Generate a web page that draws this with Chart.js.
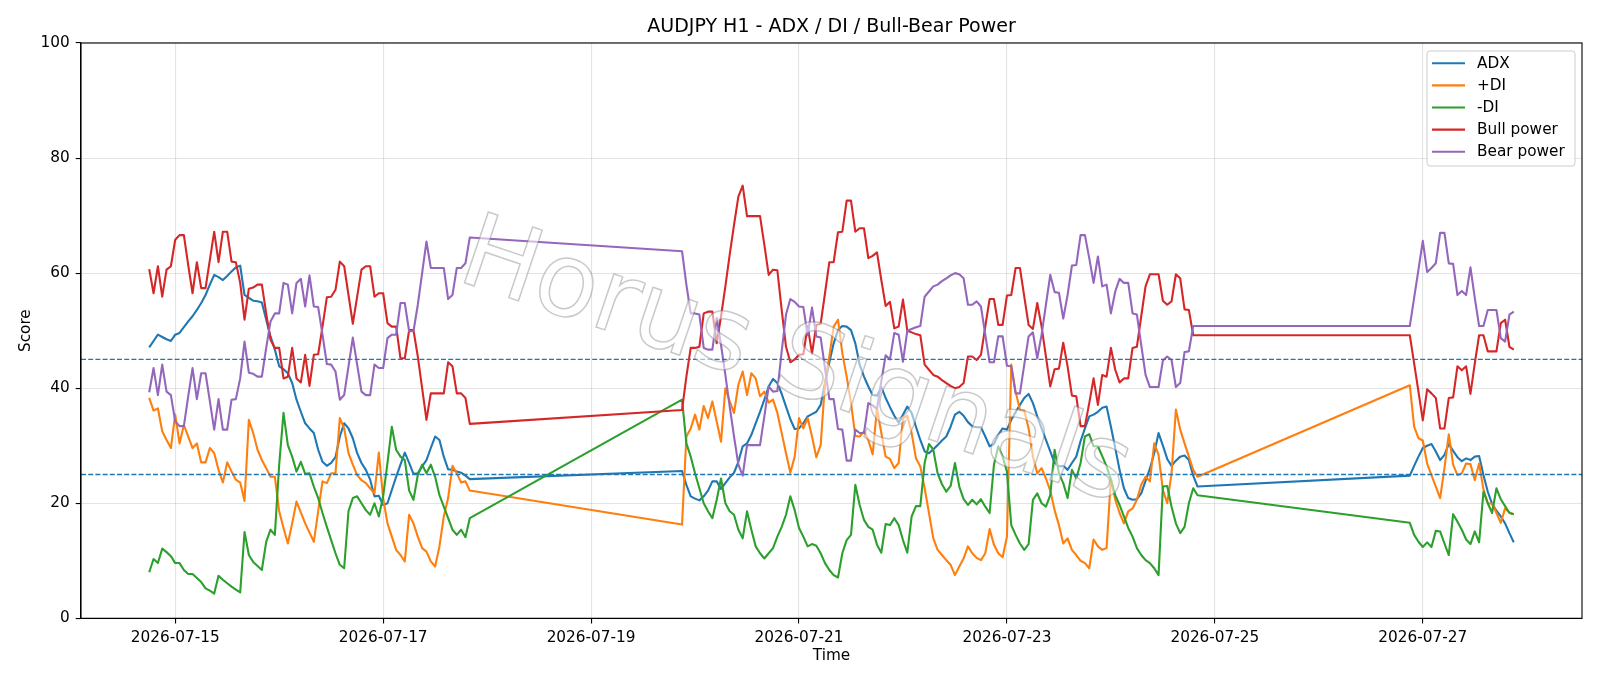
<!DOCTYPE html>
<html>
<head>
<meta charset="utf-8">
<script src="https://cdn.jsdelivr.net/npm/chart.js@4.4.1/dist/chart.umd.min.js"></script>
<style>
  html, body { margin: 0; padding: 0; background: #fff; }
</style>
</head>
<body>
<canvas id="adxChart" width="1600" height="686"></canvas>
<script>
// hourly bars, three trading blocks (weekends skipped)
const segStarts = ['2026-07-14T18:00:00Z', '2026-07-19T21:00:00Z', '2026-07-26T21:00:00Z'];
const segCounts = [75, 120, 25];

const tickLabels = ['2026-07-15', '2026-07-17', '2026-07-19', '2026-07-21', '2026-07-23', '2026-07-25', '2026-07-27'];
const refLevels = [45, 25];

const adx = [
  47.1, 48.2, 49.3, 48.9, 48.5, 48.2, 49.3, 49.6, 50.6, 51.6,
  52.5, 53.6, 54.8, 56.2, 58.0, 59.7, 59.3, 58.8, 59.5, 60.3,
  61.0, 61.3, 56.2, 55.7, 55.2, 55.1, 54.9, 51.9, 49.0, 46.7,
  43.8, 43.3, 42.6, 40.9, 38.0, 35.9, 33.9, 33.0, 32.2, 29.3,
  27.2, 26.5, 27.0, 28.0, 31.6, 33.9, 33.0, 31.3, 28.7, 27.0,
  25.8, 24.1, 21.2, 21.3, 19.7, 20.0, 22.3, 24.6, 26.7, 28.8,
  27.0, 25.1, 25.2, 26.4, 27.5, 29.6, 31.6, 31.0, 28.1, 25.9,
  25.8, 25.5, 25.3, 24.8, 24.2,
  25.6, 23.2, 21.2, 20.8, 20.5, 21.2, 22.2, 23.8, 23.8, 22.5,
  23.5, 24.5, 25.3, 27.2, 29.9, 30.4, 31.9, 33.9, 35.9, 38.0,
  40.3, 41.6, 40.9, 39.0, 36.8, 34.6, 32.9, 33.0, 33.9, 35.1,
  35.5, 35.9, 37.1, 40.9, 44.5, 47.8, 50.1, 50.8, 50.7, 50.1,
  47.8, 44.1, 42.0, 40.3, 38.8, 38.7, 40.2, 38.3, 36.7, 35.2,
  34.0, 35.4, 36.8, 35.7, 33.3, 31.0, 29.0, 28.7, 29.4, 30.1,
  30.9, 31.6, 33.3, 35.4, 35.9, 35.2, 34.1, 33.4, 33.2, 33.2,
  31.6, 29.9, 30.3, 31.9, 33.0, 32.8, 34.5, 35.8, 37.1, 38.3,
  39.0, 37.4, 35.1, 33.0, 31.0, 29.0, 27.0, 26.4, 26.5, 25.8,
  27.0, 28.1, 30.8, 33.0, 35.1, 35.4, 35.9, 36.6, 36.8, 33.3,
  29.6, 25.8, 22.6, 20.9, 20.6, 20.7, 21.7, 23.9, 26.0, 28.7,
  32.2, 30.0, 27.7, 26.5, 27.4, 28.1, 28.3, 27.5, 24.8, 22.9,
  24.8, 26.5, 28.1, 29.6, 30.0, 30.3, 29.0, 27.5, 28.4, 30.3,
  29.1, 28.0, 27.3, 27.8, 27.5, 28.1, 28.2, 24.9, 22.0, 19.9,
  18.7, 17.7, 16.5, 14.8, 13.2
];

const plusDI = [
  38.3, 36.1, 36.5, 32.5, 31.0, 29.6, 35.4, 30.4, 33.6, 31.6,
  29.6, 30.4, 27.1, 27.1, 29.6, 28.7, 25.8, 23.6, 27.1, 25.5,
  24.1, 23.6, 20.4, 34.5, 32.2, 29.3, 27.5, 26.1, 24.6, 24.6,
  18.6, 15.7, 13.0, 16.5, 20.3, 18.4, 16.5, 14.9, 13.3, 18.6,
  23.8, 23.5, 25.2, 25.2, 34.8, 33.0, 28.7, 26.7, 24.9, 24.0,
  23.5, 22.6, 21.7, 28.8, 20.9, 16.5, 14.2, 11.9, 11.0, 9.9,
  18.0, 16.5, 14.2, 12.2, 11.6, 9.9, 9.0, 12.5, 17.7, 20.9,
  26.5, 25.2, 23.6, 23.8, 22.2,
  16.3, 31.6, 33.0, 35.4, 32.8, 36.9, 34.8, 37.7, 34.2, 30.7,
  40.0, 37.7, 35.7, 40.6, 42.9, 38.8, 42.6, 41.7, 38.6, 39.4,
  37.5, 38.0, 35.7, 32.2, 28.7, 25.3, 28.1, 34.8, 33.0, 34.8,
  31.6, 28.0, 30.1, 40.9, 45.5, 50.7, 51.9, 46.1, 42.0, 37.4,
  31.7, 31.6, 32.5, 31.0, 28.5, 36.5, 32.2, 28.1, 27.7, 26.1,
  27.0, 34.8, 35.2, 32.2, 27.8, 26.4, 22.6, 18.3, 13.9, 11.9,
  11.0, 10.1, 9.3, 7.5, 9.0, 10.4, 12.5, 11.3, 10.5, 10.1,
  11.3, 15.5, 12.8, 11.3, 10.6, 14.2, 44.1, 39.4, 36.2, 36.1,
  33.0, 28.1, 25.2, 26.1, 24.3, 22.2, 18.8, 16.2, 13.0, 13.9,
  11.9, 11.0, 10.0, 9.6, 8.7, 13.7, 12.5, 11.9, 12.2, 24.3,
  20.6, 18.3, 16.5, 18.6, 19.1, 20.6, 23.2, 24.6, 23.8, 30.4,
  28.4, 22.3, 20.0, 25.2, 36.3, 32.8, 30.4, 28.1, 25.8, 24.6,
  40.5, 33.3, 31.3, 30.9, 26.9, 24.9, 22.9, 20.9, 26.1, 32.0,
  26.7, 24.9, 25.2, 26.9, 26.8, 24.0, 26.9, 22.4, 20.0, 19.9,
  18.3, 16.6, 19.1, 18.4, 18.1
];

const minusDI = [
  8.0, 10.3, 9.6, 12.1, 11.5, 10.8, 9.6, 9.6, 8.4, 7.7,
  7.7, 7.0, 6.3, 5.2, 4.8, 4.3, 7.4, 6.7, 6.1, 5.5,
  5.0, 4.5, 15.0, 11.0, 9.8, 9.1, 8.4, 13.3, 15.4, 14.5,
  26.7, 35.7, 30.1, 28.1, 25.5, 27.2, 25.1, 25.2, 22.9, 20.9,
  18.3, 15.9, 13.6, 11.3, 9.3, 8.7, 18.6, 20.9, 21.2, 20.0,
  18.8, 18.0, 20.0, 17.7, 21.2, 27.0, 33.3, 29.3, 28.1, 27.5,
  22.2, 20.6, 24.9, 26.7, 25.2, 26.7, 24.6, 21.4, 19.4, 17.4,
  15.4, 14.5, 15.4, 14.1, 17.4,
  38.0, 30.4, 28.1, 25.2, 22.6, 20.0, 18.6, 17.4, 20.6, 24.3,
  20.0, 18.6, 18.0, 15.4, 13.9, 18.6, 15.4, 12.5, 11.3, 10.4,
  11.3, 12.2, 14.2, 15.9, 18.0, 21.2, 18.8, 15.7, 14.2, 12.5,
  12.9, 12.6, 11.3, 9.6, 8.4, 7.5, 7.1, 11.3, 13.6, 14.5,
  23.2, 19.7, 17.1, 15.9, 15.4, 12.8, 11.4, 16.4, 16.2, 17.4,
  16.2, 13.6, 11.4, 17.7, 19.5, 19.5, 27.0, 30.3, 29.3, 25.2,
  23.3, 22.0, 23.0, 27.0, 22.9, 20.7, 19.7, 20.6, 19.8, 20.7,
  19.4, 18.3, 26.7, 29.9, 28.1, 25.5, 16.2, 14.5, 13.0, 11.9,
  12.9, 20.6, 21.7, 20.0, 19.4, 21.4, 29.3, 25.2, 23.5, 20.9,
  25.8, 24.3, 27.0, 31.6, 32.0, 29.9, 29.9, 28.2, 26.4, 24.1,
  21.4, 19.7, 17.7, 15.7, 14.2, 12.2, 11.0, 10.1, 9.6, 8.7,
  7.5, 22.9, 23.0, 19.4, 16.5, 14.8, 15.9, 20.0, 22.6, 21.4,
  16.6, 14.5, 13.3, 12.4, 13.2, 12.4, 15.2, 15.1, 13.0, 11.0,
  18.1, 16.8, 15.4, 13.7, 12.9, 15.1, 13.2, 22.0, 20.0, 18.3,
  22.6, 20.7, 19.5, 18.3, 18.1
];

const bullPower = [
  60.7, 56.5, 61.2, 55.9, 60.6, 61.2, 65.8, 66.6, 66.6, 61.4,
  56.5, 61.9, 57.4, 57.4, 62.3, 67.2, 61.9, 67.2, 67.2, 62.0,
  61.9, 58.3, 51.9, 57.3, 57.5, 58.0, 58.0, 53.0, 48.4, 47.0,
  47.0, 41.7, 42.0, 47.0, 41.7, 41.0, 45.8, 40.4, 45.8, 45.9,
  50.7, 55.8, 55.9, 57.1, 62.0, 61.2, 56.2, 51.2, 55.9, 60.6,
  61.2, 61.2, 55.9, 56.5, 56.5, 51.3, 50.7, 50.7, 45.2, 45.2,
  50.1, 50.1, 45.5, 40.0, 34.5, 39.1, 39.1, 39.1, 39.1, 44.5,
  43.8, 39.1, 39.1, 38.3, 33.8,
  36.2, 42.0, 47.0, 47.0, 47.2, 53.0, 53.3, 53.3, 47.8, 52.5,
  57.7, 63.2, 68.4, 73.3, 75.2, 69.9, 69.9, 69.9, 69.9, 64.9,
  59.7, 60.6, 60.5, 53.6, 47.2, 44.5, 45.0, 45.8, 45.9, 50.8,
  46.0, 51.0, 51.2, 56.5, 61.9, 61.9, 67.1, 67.2, 72.6, 72.6,
  67.2, 67.8, 67.8, 62.6, 63.0, 63.6, 58.8, 54.3, 55.0, 50.4,
  50.7, 55.4, 50.0, 49.7, 49.4, 49.2, 44.1, 43.2, 42.3, 42.0,
  41.4, 40.9, 40.4, 40.0, 40.2, 40.9, 45.5, 45.5, 44.9, 45.8,
  50.7, 55.5, 55.5, 51.0, 51.0, 56.1, 56.2, 60.9, 60.9, 55.9,
  51.0, 50.3, 54.8, 50.7, 45.5, 40.3, 43.3, 43.4, 47.9, 43.8,
  38.7, 38.6, 33.4, 33.4, 37.4, 41.7, 37.1, 42.3, 42.0, 47.0,
  43.2, 41.0, 41.7, 41.7, 47.0, 47.2, 52.5, 57.7, 59.8, 59.8,
  59.8, 55.2, 54.5, 55.1, 59.8, 59.1, 53.7, 53.6, 49.2, 49.2,
  49.2, 44.3, 39.4, 34.4, 39.8, 39.1, 38.3, 33.0, 33.0, 38.3,
  38.4, 43.8, 43.1, 43.8, 39.0, 44.3, 49.2, 49.2, 46.4, 46.4,
  46.4, 51.3, 51.9, 47.2, 46.7
];

const bearPower = [
  39.3, 43.5, 38.8, 44.1, 39.4, 38.8, 34.2, 33.4, 33.4, 38.6,
  43.5, 38.1, 42.6, 42.6, 37.7, 32.8, 38.1, 32.8, 32.8, 38.0,
  38.1, 41.7, 48.1, 42.7, 42.5, 42.0, 42.0, 47.0, 51.6, 53.0,
  53.0, 58.3, 58.0, 53.0, 58.3, 59.0, 54.2, 59.6, 54.2, 54.1,
  49.3, 44.2, 44.1, 42.9, 38.0, 38.8, 43.8, 48.8, 44.1, 39.4,
  38.8, 38.8, 44.1, 43.5, 43.5, 48.7, 49.3, 49.3, 54.8, 54.8,
  49.9, 49.9, 54.5, 60.0, 65.5, 60.9, 60.9, 60.9, 60.9, 55.5,
  56.2, 60.9, 60.9, 61.7, 66.2,
  63.8, 58.0, 53.0, 53.0, 52.8, 47.0, 46.7, 46.7, 52.2, 47.5,
  42.3, 36.8, 31.6, 26.7, 24.8, 30.1, 30.1, 30.1, 30.1, 35.1,
  40.3, 39.4, 39.5, 46.4, 52.8, 55.5, 55.0, 54.2, 54.1, 49.2,
  54.0, 49.0, 48.8, 43.5, 38.1, 38.1, 32.9, 32.8, 27.4, 27.4,
  32.8, 32.2, 32.2, 37.4, 37.0, 36.4, 41.2, 45.7, 45.0, 49.6,
  49.3, 44.6, 50.0, 50.3, 50.6, 50.8, 55.9, 56.8, 57.7, 58.0,
  58.6, 59.1, 59.6, 60.0, 59.8, 59.1, 54.5, 54.5, 55.1, 54.2,
  49.3, 44.5, 44.5, 49.0, 49.0, 43.9, 43.8, 39.1, 39.1, 44.1,
  49.0, 49.7, 45.2, 49.3, 54.5, 59.7, 56.7, 56.6, 52.1, 56.2,
  61.3, 61.4, 66.6, 66.6, 62.6, 58.3, 62.9, 57.7, 58.0, 53.0,
  56.8, 59.0, 58.3, 58.3, 53.0, 52.8, 47.5, 42.3, 40.2, 40.2,
  40.2, 44.8, 45.5, 44.9, 40.2, 40.9, 46.3, 46.4, 50.8, 50.8,
  50.8, 55.7, 60.6, 65.6, 60.2, 60.9, 61.7, 67.0, 67.0, 61.7,
  61.6, 56.2, 56.9, 56.2, 61.0, 55.7, 50.8, 50.8, 53.6, 53.6,
  53.6, 48.7, 48.1, 52.8, 53.3
];

// x positions: hours since 2026-07-15 00:00 UTC
const origin = Date.parse(tickLabels[0] + 'T00:00:00Z');
const hours = [];
segStarts.forEach((s, k) => {
  const t0 = (Date.parse(s) - origin) / 3600000;
  for (let i = 0; i < segCounts[k]; i++) hours.push(t0 + i);
});
const tickHours = tickLabels.map(d => (Date.parse(d + 'T00:00:00Z') - origin) / 3600000);

const span = hours[hours.length - 1] - hours[0];
const xMin = hours[0] - 0.05 * span;
const xMax = hours[hours.length - 1] + 0.05 * span;

const pts = arr => arr.map((y, i) => ({x: hours[i], y: y}));

const series = [
  {label: 'ADX', data: pts(adx), borderColor: '#1f77b4'},
  {label: '+DI', data: pts(plusDI), borderColor: '#ff7f0e'},
  {label: '-DI', data: pts(minusDI), borderColor: '#2ca02c'},
  {label: 'Bull power', data: pts(bullPower), borderColor: '#d62728'},
  {label: 'Bear power', data: pts(bearPower), borderColor: '#9467bd'}
];

const datasets = series.map((s, i) => Object.assign({}, s, {
  borderWidth: 2.1,
  pointRadius: 0,
  tension: 0,
  fill: false,
  borderJoinStyle: 'round',
  order: 10 - i
}));

refLevels.forEach(v => {
  datasets.push({
    label: '',
    isRef: true,
    data: [{x: xMin, y: v}, {x: xMax, y: v}],
    borderColor: '#1f77b4',
    borderWidth: 1.3,
    borderDash: [5, 2.2],
    pointRadius: 0,
    fill: false,
    order: 0
  });
});

const FONT = 'DejaVu Sans';
const TXT = 15.3;

const decorations = {
  id: 'decorations',
  afterDatasetsDraw(chart) {
    // watermark
    const ctx = chart.ctx;
    ctx.save();
    ctx.translate(795, 366);
    ctx.rotate(18.6 * Math.PI / 180);
    ctx.font = '100px "' + FONT + '"';
    const w = ctx.measureText('Horus Signals').width;
    ctx.font = (100 * 700 / w).toFixed(1) + 'px "' + FONT + '"';
    ctx.textAlign = 'center';
    ctx.textBaseline = 'middle';
    ctx.fillStyle = 'rgba(255,255,255,0.55)';
    ctx.fillText('Horus Signals', 0, 0);
    ctx.strokeStyle = 'rgba(120,120,120,0.4)';
    ctx.lineWidth = 1.5;
    ctx.strokeText('Horus Signals', 0, 0);
    ctx.restore();
  },
  afterDraw(chart) {
    const ctx = chart.ctx;
    const a = chart.chartArea;
    ctx.save();
    // spines
    ctx.strokeStyle = '#000';
    ctx.lineWidth = 1.1;
    ctx.strokeRect(a.left, a.top, a.right - a.left, a.bottom - a.top);

    // title
    ctx.fillStyle = '#000';
    ctx.font = '19px "' + FONT + '"';
    ctx.textAlign = 'center';
    ctx.textBaseline = 'middle';
    ctx.fillText('AUDJPY H1 - ADX / DI / Bull-Bear Power', (a.left + a.right) / 2, 27.5);

    // legend
    const lx = 1427, ly = 51, lw = 148, lh = 115;
    ctx.beginPath();
    ctx.roundRect(lx, ly, lw, lh, 3);
    ctx.fillStyle = 'rgba(255,255,255,0.8)';
    ctx.fill();
    ctx.strokeStyle = '#cccccc';
    ctx.lineWidth = 1;
    ctx.stroke();
    ctx.font = TXT + 'px "' + FONT + '"';
    ctx.textAlign = 'left';
    ctx.textBaseline = 'middle';
    chart.data.datasets.filter(d => !d.isRef).forEach((d, i) => {
      const y = 63.3 + i * 22.1;
      ctx.beginPath();
      ctx.moveTo(1432, y);
      ctx.lineTo(1465, y);
      ctx.strokeStyle = d.borderColor;
      ctx.lineWidth = 2.1;
      ctx.stroke();
      ctx.fillStyle = '#000';
      ctx.fillText(d.label, 1477, y + 0.5);
    });
    ctx.restore();
  }
};

const gridColor = 'rgba(176,176,176,0.35)';

const config = {
  type: 'line',
  data: {datasets: datasets},
  plugins: [decorations],
  options: {
    responsive: false,
    animation: false,
    devicePixelRatio: 1,
    layout: {padding: {top: 43, right: 18, left: 0, bottom: 0}},
    plugins: {
      legend: {display: false},
      title: {display: false},
      tooltip: {enabled: false}
    },
    scales: {
      x: {
        type: 'linear',
        min: xMin,
        max: xMax,
        afterBuildTicks: axis => { axis.ticks = tickHours.map(v => ({value: v})); },
        afterFit: scale => { scale.height = 67.7; },
        ticks: {
          autoSkip: false,
          maxRotation: 0,
          padding: 5,
          color: '#000',
          font: {family: FONT, size: TXT},
          callback: v => {
            const i = tickHours.indexOf(v);
            return i >= 0 ? tickLabels[i] : '';
          }
        },
        grid: {color: gridColor, lineWidth: 1.1, tickColor: '#000', tickLength: 5.3, tickWidth: 1.1},
        border: {color: '#000', width: 1.1},
        title: {display: true, text: 'Time', color: '#000', font: {family: FONT, size: TXT}, padding: {top: 4, bottom: 20.8}}
      },
      y: {
        min: 0,
        max: 100,
        afterFit: scale => { scale.width = 81; },
        ticks: {stepSize: 20, padding: 6, color: '#000', font: {family: FONT, size: TXT}},
        grid: {color: gridColor, lineWidth: 1.1, tickColor: '#000', tickLength: 5.3, tickWidth: 1.1},
        border: {color: '#000', width: 1.1},
        title: {display: true, text: 'Score', color: '#000', font: {family: FONT, size: TXT}, padding: {top: 17.3, bottom: 4}}
      }
    }
  }
};

const adxChart = new Chart(document.getElementById('adxChart'), config);
</script>
</body>
</html>
